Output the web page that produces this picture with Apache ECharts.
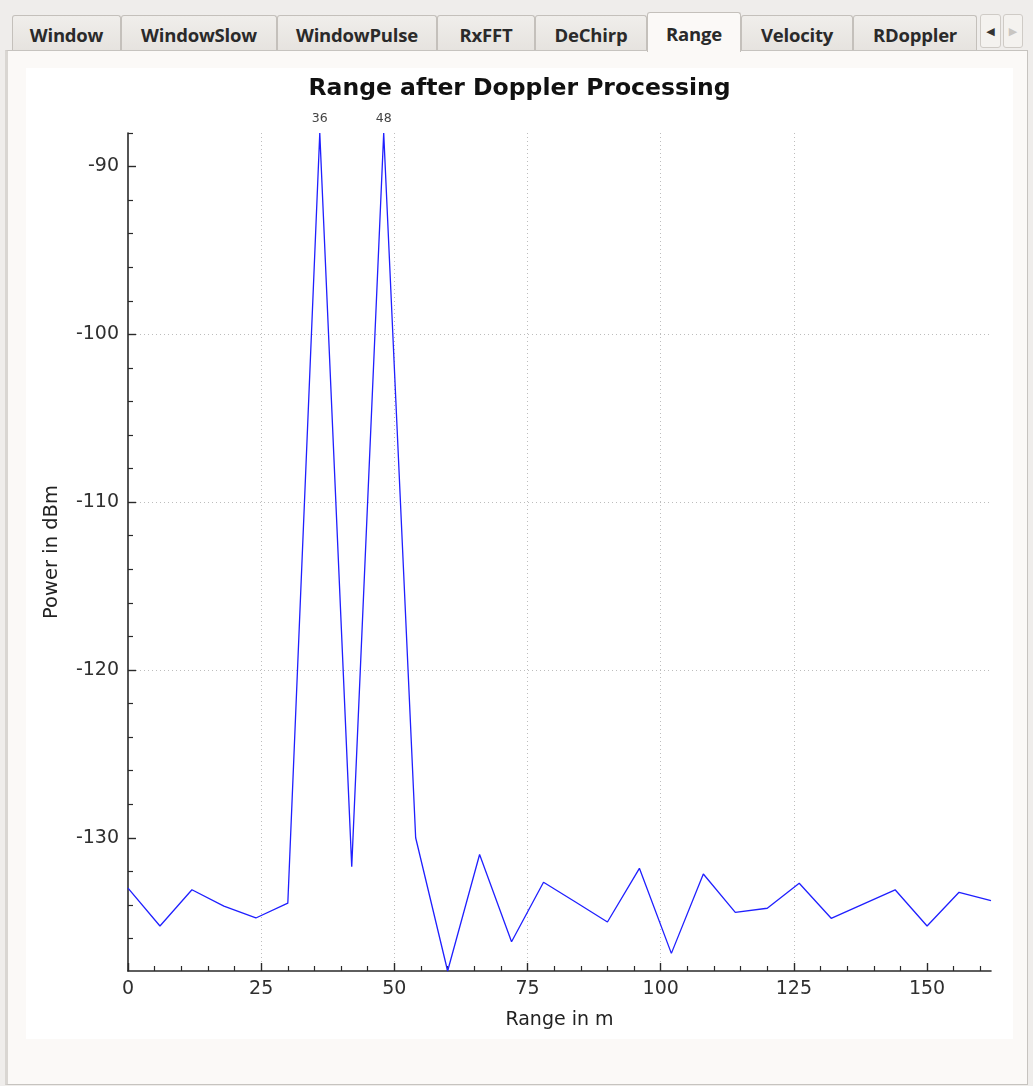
<!DOCTYPE html>
<html>
<head>
<meta charset="utf-8">
<script src="https://cdn.jsdelivr.net/npm/echarts@6/dist/echarts.min.js"></script>
<style>
  html, body { margin: 0; padding: 0; }
  body { width: 1033px; height: 1086px; background: #efedeb; position: relative; overflow: hidden; font-family: "Open Sans", "DejaVu Sans", sans-serif; }
  .panel { position: absolute; left: 5px; top: 50px; width: 1019px; height: 1033px; background: #fbf9f7; border: 1px solid #c6c3bf; border-left: 3px solid #d9d6d2; }
  .tab { position: absolute; top: 15px; height: 35px; box-sizing: border-box; border: 1px solid #c4c0bb; border-bottom: none; border-radius: 3px 3px 0 0; background: linear-gradient(#f0eeeb, #e6e3df); color: #2a2a2a; font-weight: 700; font-size: 18.5px; line-height: 37px; text-align: center; letter-spacing: -0.2px; }
  .tab.sel { top: 12px; height: 40px; background: #fbf9f7; line-height: 41px; z-index: 2; }
  .arrow { position: absolute; top: 14px; height: 34px; box-sizing: border-box; border: 1px solid #cfcbc6; border-radius: 3px; background: #f4f2ef; font-size: 11px; line-height: 32px; text-align: center; color: #333; }
  #chart { position: absolute; left: 26px; top: 68px; width: 987px; height: 971px; background: #ffffff; }
</style>
</head>
<body>
<div class="panel"></div>
<div id="tabs"></div>
<div class="arrow" style="left:980px;width:21px;">&#9664;</div>
<div class="arrow" style="left:1003px;width:20px;color:#c8c5c1;">&#9654;</div>
<div id="chart"></div>
<script>
// ---- data ----
var tabNames = ["Window", "WindowSlow", "WindowPulse", "RxFFT", "DeChirp", "Range", "Velocity", "RDoppler"];
var selectedTab = "Range";
var rangeM = [0, 6, 12, 18, 24, 30, 36, 42, 48, 54, 60, 66, 72, 78, 84, 90, 96, 102, 108, 114, 120, 126, 132, 138, 144, 150, 156, 162];
var powerDbm = [-133.0, -135.26, -133.1, -134.07, -134.78, -133.9, -88.0, -131.72, -88.0, -130.0, -137.94, -131.0, -136.2, -132.65, -133.83, -135.02, -131.82, -136.89, -132.16, -134.45, -134.2, -132.71, -134.8, -133.95, -133.1, -135.26, -133.25, -133.75];
var peakRanges = [36, 48];
var xTickLabels = [0, 25, 50, 75, 100, 125, 150];
var yTickLabels = [-130, -120, -110, -100, -90];
var xMinorStep = 5;
var yMinorStep = 2;

// ---- tabs (layout only) ----
var tabEdges = [12, 121, 277, 437, 535, 647, 741, 853, 977];
var tabsEl = document.getElementById('tabs');
tabNames.forEach(function (name, i) {
  var d = document.createElement('div');
  d.className = 'tab' + (name === selectedTab ? ' sel' : '');
  d.style.left = tabEdges[i] + 'px';
  d.style.width = (tabEdges[i + 1] - tabEdges[i]) + 'px';
  d.textContent = name;
  tabsEl.appendChild(d);
});

// ---- chart ----
var xMin = 0, xMax = rangeM[rangeM.length - 1];
var yMin = Math.min.apply(null, powerDbm), yMax = Math.max.apply(null, powerDbm);
var xMinor = [], yMinor = [];
for (var v = xMin; v <= xMax; v += xMinorStep) { if (xTickLabels.indexOf(v) < 0) xMinor.push(v); }
for (var w = Math.ceil(yMin / yMinorStep) * yMinorStep; w <= yMax; w += yMinorStep) { if (yTickLabels.indexOf(w) < 0) yMinor.push(w); }

var seriesData = rangeM.map(function (r, i) {
  return [r, powerDbm[i]];
});
var peakPoints = rangeM.map(function (r, i) {
  return peakRanges.indexOf(r) >= 0 ? { name: String(r), coord: [r, powerDbm[i]] } : null;
}).filter(Boolean);

var axisColor = '#2a2a2a';
var labelFont = { fontFamily: 'DejaVu Sans', fontSize: 19, color: '#2f2f2f' };
var gridLine = { show: true, showMinLine: false, showMaxLine: false, lineStyle: { color: '#bdbdbd', type: [1, 3], width: 1 } };

var chart = echarts.init(document.getElementById('chart'), null, { renderer: 'canvas' });
chart.setOption({
  animation: false,
  backgroundColor: '#ffffff',
  title: {
    text: 'Range after Doppler Processing',
    left: 'center',
    top: 4,
    textStyle: { fontFamily: 'DejaVu Sans', fontWeight: 'bold', fontSize: 23.5, color: '#111' }
  },
  grid: { left: 102, top: 65, width: 863, height: 838, containLabel: false },
  xAxis: [{
    type: 'value', min: xMin, max: xMax, position: 'bottom',
    name: 'Range in m', nameLocation: 'middle', nameGap: 40,
    nameTextStyle: { fontFamily: 'DejaVu Sans', fontSize: 19, color: '#222' },
    axisLine: { show: true, onZero: false, lineStyle: { color: axisColor, width: 1.6 } },
    axisTick: { show: true, inside: true, length: 8, customValues: xTickLabels, lineStyle: { color: axisColor, width: 1.4 } },
    axisLabel: Object.assign({ margin: 9, customValues: xTickLabels }, labelFont),
    splitLine: gridLine
  }, {
    type: 'value', min: xMin, max: xMax, position: 'bottom',
    axisLine: { show: false, onZero: false },
    axisTick: { show: true, inside: true, length: 5, customValues: xMinor, lineStyle: { color: axisColor, width: 1.2 } },
    axisLabel: { show: false },
    splitLine: { show: false }
  }],
  yAxis: [{
    type: 'value', min: yMin, max: yMax, position: 'left',
    name: 'Power in dBm', nameLocation: 'middle', nameGap: 66, nameRotate: 90,
    nameTextStyle: { fontFamily: 'DejaVu Sans', fontSize: 19.5, color: '#222' },
    axisLine: { show: true, onZero: false, lineStyle: { color: axisColor, width: 1.6 } },
    axisTick: { show: true, inside: true, length: 8, customValues: yTickLabels, lineStyle: { color: axisColor, width: 1.4 } },
    axisLabel: Object.assign({ margin: 9, customValues: yTickLabels }, labelFont),
    splitLine: gridLine
  }, {
    type: 'value', min: yMin, max: yMax, position: 'left',
    axisLine: { show: false, onZero: false },
    axisTick: { show: true, inside: true, length: 5, customValues: yMinor, lineStyle: { color: axisColor, width: 1.2 } },
    axisLabel: { show: false },
    splitLine: { show: false }
  }],
  series: [{
    type: 'line',
    xAxisIndex: 0, yAxisIndex: 0,
    data: seriesData,
    showSymbol: false,
    symbol: 'none',
    clip: false,
    lineStyle: { color: '#1f1fff', width: 1.3 },
    markPoint: {
      symbol: 'circle',
      symbolSize: 1,
      itemStyle: { color: 'rgba(0,0,0,0)' },
      silent: true,
      label: {
        show: true, position: 'top', distance: 7,
        fontFamily: 'DejaVu Sans', fontSize: 12.5, color: '#444',
        formatter: function (p) { return p.name; }
      },
      data: peakPoints
    }
  }]
});
</script>
</body>
</html>
